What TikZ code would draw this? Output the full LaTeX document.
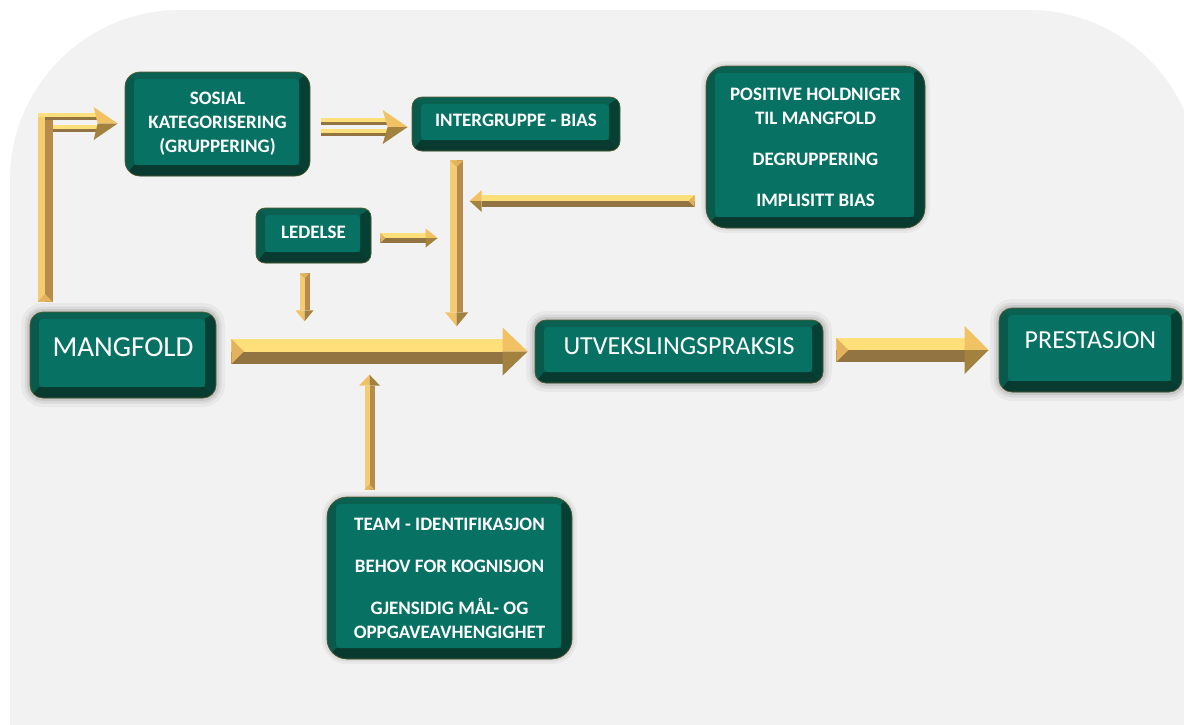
\documentclass[tikz,border=0pt]{standalone}
\usepackage{fontspec}
\setmainfont{Carlito}
\usetikzlibrary{calc}
\definecolor{bgc}{HTML}{F2F2F2}
\definecolor{face}{HTML}{077264}
\definecolor{bvT}{HTML}{0A6152}
\definecolor{bvL}{HTML}{0A5A4B}
\definecolor{bvR}{HTML}{063F34}
\definecolor{bvB}{HTML}{083A30}
\definecolor{edge}{HTML}{5A5A32}
\definecolor{gLight}{HTML}{FFDF7A}
\definecolor{gDark}{HTML}{927442}
\definecolor{gMid}{HTML}{E2B25E}
\definecolor{gHeadL}{HTML}{F1C263}
\definecolor{gHeadD}{HTML}{A3823F}
\definecolor{vLight}{HTML}{F4CD72}
\definecolor{vDark}{HTML}{B78C4A}
\newcommand\up[2]{\raisebox{#1}[\height][\depth]{#2}}
\newcommand\lines[1]{\begin{tabular}{@{}c@{}}#1\end{tabular}}
% horizontal arrow to the right: tail, tip, half shaft, half head, head length
\newcommand\ArrR[5]{%
 \fill[gLight] let \p1=(#1),\p2=(#2) in (\x1,\y1) rectangle (\x2-#5pt,\y1+#3pt);
 \fill[gDark] let \p1=(#1),\p2=(#2) in (\x1,\y1) rectangle (\x2-#5pt,\y1-#3pt);
 \fill[gHeadL] let \p1=(#1),\p2=(#2) in (\x2-#5pt,\y1) -- (\x2-#5pt,\y1+#4pt) -- (\x2,\y1) -- cycle;
 \fill[gHeadD] let \p1=(#1),\p2=(#2) in (\x2-#5pt,\y1) -- (\x2-#5pt,\y1-#4pt) -- (\x2,\y1) -- cycle;
 \fill[gMid] let \p1=(#1),\p2=(#2) in (\x1,\y1+#3pt) -- (\x1+#3pt,\y1) -- (\x1,\y1-#3pt) -- cycle;}
\newcommand\ArrL[5]{%
 \fill[gLight] let \p1=(#1),\p2=(#2) in (\x2+#5pt,\y1) rectangle (\x1,\y1+#3pt);
 \fill[gDark] let \p1=(#1),\p2=(#2) in (\x2+#5pt,\y1) rectangle (\x1,\y1-#3pt);
 \fill[gHeadL] let \p1=(#1),\p2=(#2) in (\x2+#5pt,\y1) -- (\x2+#5pt,\y1+#4pt) -- (\x2,\y1) -- cycle;
 \fill[gHeadD] let \p1=(#1),\p2=(#2) in (\x2+#5pt,\y1) -- (\x2+#5pt,\y1-#4pt) -- (\x2,\y1) -- cycle;
 \fill[gMid] let \p1=(#1),\p2=(#2) in (\x1,\y1+#3pt) -- (\x1-#3pt,\y1) -- (\x1,\y1-#3pt) -- cycle;}
\newcommand\ArrD[5]{%
 \fill[vLight] let \p1=(#1),\p2=(#2) in (\x1-#3pt,\y1) rectangle (\x1,\y2+#5pt);
 \fill[vDark] let \p1=(#1),\p2=(#2) in (\x1,\y1) rectangle (\x1+#3pt,\y2+#5pt);
 \fill[gHeadL] let \p1=(#1),\p2=(#2) in (\x1-#4pt,\y2+#5pt) -- (\x1,\y2+#5pt) -- (\x1,\y2) -- cycle;
 \fill[gHeadD] let \p1=(#1),\p2=(#2) in (\x1,\y2+#5pt) -- (\x1+#4pt,\y2+#5pt) -- (\x1,\y2) -- cycle;
 \fill[gMid] let \p1=(#1),\p2=(#2) in (\x1-#3pt,\y1) -- (\x1,\y1-#3pt) -- (\x1+#3pt,\y1) -- cycle;}
\newcommand\ArrU[5]{%
 \fill[vLight] let \p1=(#1),\p2=(#2) in (\x1-#3pt,\y1) rectangle (\x1,\y2-#5pt);
 \fill[vDark] let \p1=(#1),\p2=(#2) in (\x1,\y1) rectangle (\x1+#3pt,\y2-#5pt);
 \fill[gHeadL] let \p1=(#1),\p2=(#2) in (\x1-#4pt,\y2-#5pt) -- (\x1,\y2-#5pt) -- (\x1,\y2) -- cycle;
 \fill[gHeadD] let \p1=(#1),\p2=(#2) in (\x1,\y2-#5pt) -- (\x1+#4pt,\y2-#5pt) -- (\x1,\y2) -- cycle;
 \fill[gMid] let \p1=(#1),\p2=(#2) in (\x1-#3pt,\y1) -- (\x1,\y1+#3pt) -- (\x1+#3pt,\y1) -- cycle;}
% double-line arrow to the right
\newcommand\DblR[2]{%
 \fill[gLight] let \p1=(#1),\p2=(#2) in (\x1,\y1+5.5pt) rectangle (\x2-21pt,\y1+9.3pt);
 \fill[gDark] let \p1=(#1),\p2=(#2) in (\x1,\y1+5.5pt) rectangle (\x2-21pt,\y1+1.8pt);
 \fill[gLight] let \p1=(#1),\p2=(#2) in (\x1,\y1-5.5pt) rectangle (\x2-21pt,\y1-1.8pt);
 \fill[gDark] let \p1=(#1),\p2=(#2) in (\x1,\y1-5.5pt) rectangle (\x2-21pt,\y1-9.3pt);
 \fill[gHeadL] let \p1=(#1),\p2=(#2) in (\x2-25pt,\y1+17pt) -- (\x2,\y1) -- (\x2-20pt,\y1) -- cycle;
 \fill[gHeadD] let \p1=(#1),\p2=(#2) in (\x2-25pt,\y1-17pt) -- (\x2,\y1) -- (\x2-20pt,\y1) -- cycle;}
\tikzset{
 box/.style={rounded corners=12pt, fill=bvT, draw=edge, line width=0.7pt, text=white, inner sep=0pt,
  font=\bfseries\fontsize{19}{24}\selectfont,
  path picture={
   \fill[bvL, sharp corners] (path picture bounding box.north west) -- ([xshift=9pt,yshift=-7pt]path picture bounding box.north west) -- ([xshift=9pt,yshift=11pt]path picture bounding box.south west) -- (path picture bounding box.south west) -- cycle;
   \fill[bvR, sharp corners] (path picture bounding box.north east) -- ([xshift=-11pt,yshift=-7pt]path picture bounding box.north east) -- ([xshift=-11pt,yshift=11pt]path picture bounding box.south east) -- (path picture bounding box.south east) -- cycle;
   \fill[bvB, sharp corners] (path picture bounding box.south west) -- ([xshift=9pt,yshift=11pt]path picture bounding box.south west) -- ([xshift=-11pt,yshift=11pt]path picture bounding box.south east) -- (path picture bounding box.south east) -- cycle;
   \fill[face, rounded corners=4pt] ([xshift=9pt,yshift=-7pt]path picture bounding box.north west) rectangle ([xshift=-11pt,yshift=11pt]path picture bounding box.south east);
  }},
 glow/.style={preaction={draw=black, opacity=0.04, line width=18pt},
  preaction={draw=black, opacity=0.06, line width=11pt},
  preaction={draw=black, opacity=0.08, line width=6pt}},
 softglow/.style={preaction={draw=black, opacity=0.04, line width=10pt},
  preaction={draw=black, opacity=0.05, line width=5pt}},
 bigtext/.style={font=\fontsize{26}{30}\selectfont}
}
\begin{document}
\begin{tikzpicture}[x=1pt,y=-1pt]
\useasboundingbox (0,0) rectangle (1184,724);
\clip (0,0) rectangle (1184,724);
\fill[white] (0,0) rectangle (1184,724);
\fill[bgc, rounded corners=170pt] (10,10) rectangle (1199,1100);

% nodes
\node[box, rounded corners=15pt, minimum width=185pt, minimum height=104pt] (sos) at (217.5,124)
  {\up{0pt}{\lines{SOSIAL\\KATEGORISERING\\(GRUPPERING)}}};
\node[box, rounded corners=10pt, minimum width=208pt, minimum height=54pt] (inter) at (516,124)
  {\up{4pt}{INTERGRUPPE - BIAS}};
\node[box, softglow, rounded corners=20pt, minimum width=219pt, minimum height=162pt] (pos) at (815.5,147)
  {\up{-2pt}{\lines{POSITIVE HOLDNIGER\\TIL MANGFOLD\\[17pt]DEGRUPPERING\\[17pt]IMPLISITT BIAS}}};
\node[box, rounded corners=9pt, minimum width=115pt, minimum height=55pt] (led) at (313.5,235.5)
  {\up{3pt}{LEDELSE}};
\node[box, glow, rounded corners=13pt, minimum width=186pt, minimum height=86pt, font=\fontsize{29}{34}\selectfont] (mang) at (123,355)
  {\up{8pt}{MANGFOLD}};
\node[box, glow, bigtext, rounded corners=11pt, minimum width=288pt, minimum height=63pt] (utv) at (679,351.5)
  {\up{5pt}{UTVEKSLINGSPRAKSIS}};
\node[box, glow, bigtext, rounded corners=13pt, minimum width=183pt, minimum height=84pt] (pres) at (1090.5,350)
  {\up{10pt}{PRESTASJON}};
\node[box, softglow, rounded corners=20pt, minimum width=245pt, minimum height=162pt] (team) at (449.5,578)
  {\up{-2pt}{\lines{TEAM - IDENTIFIKASJON\\[18pt]BEHOV FOR KOGNISJON\\[18pt]GJENSIDIG MÅL- OG\\OPPGAVEAVHENGIGHET}}};

% helper coordinates
\coordinate (vtop) at ($(inter.south west)+(45,9)$);
\coordinate (vbot) at ($(vtop)+(0,166)$);

% L-shaped double arrow MANGFOLD -> SOSIAL
\fill[vLight] let \p1=(mang.north west),\p2=(sos.west) in (\x1+8pt,\y1+10pt) rectangle (\x1+15.5pt,\y2+11pt);
\fill[vDark] let \p1=(mang.north west),\p2=(sos.west) in (\x1+15.5pt,\y1+10pt) rectangle (\x1+23pt,\y2+4pt);
\fill[gMid] let \p1=(mang.north west),\p2=(sos.west) in (\x1+8pt,\y1+10pt) -- (\x1+15.5pt,\y1+17.5pt) -- (\x1+23pt,\y1+10pt) -- cycle;
\fill[gLight] let \p1=(mang.north west),\p2=(sos.west) in (\x1+8pt,\y2+11pt) rectangle (\x2-28pt,\y2+7.5pt);
\fill[gDark] let \p1=(mang.north west),\p2=(sos.west) in (\x1+15.5pt,\y2+7.5pt) rectangle (\x2-28pt,\y2+4pt);
\fill[gLight] let \p1=(mang.north west),\p2=(sos.west) in (\x1+23pt,\y2-1pt) rectangle (\x2-28pt,\y2-4.5pt);
\fill[gDark] let \p1=(mang.north west),\p2=(sos.west) in (\x1+23pt,\y2-4.5pt) rectangle (\x2-28pt,\y2-8pt);
\fill[gHeadL] let \p1=(mang.north west),\p2=(sos.west) in (\x2-31pt,\y2+17pt) -- (\x2-7pt,\y2+0.5pt) -- (\x2-27pt,\y2+0.5pt) -- cycle;
\fill[gHeadD] let \p1=(mang.north west),\p2=(sos.west) in (\x2-31pt,\y2-16pt) -- (\x2-7pt,\y2+0.5pt) -- (\x2-27pt,\y2+0.5pt) -- cycle;

% double arrow SOSIAL -> INTERGRUPPE
\DblR{$(sos.east)+(11,3)$}{$(inter.west)+(-4,3)$}

% INTERGRUPPE down
\ArrD{vtop}{vbot}{6.5}{11.5}{14}
% POSITIVE -> left
\ArrL{$(pos.west)+(-11,54)$}{$(vtop)+(13,0)$}{6}{11}{12}
% LEDELSE right and down
\ArrR{$(led.east)+(9,2.5)$}{$(vtop)+(-19,0)$}{5}{9.5}{12}
\ArrD{$(led.south)+(-9,10)$}{$(led.south)+(-9,58)$}{5}{9}{11}
% TEAM up
\ArrU{$(team.north)+(-80,-7)$}{$(team.north)+(-80,-122)$}{5}{10.5}{11}
% main flow
\ArrR{$(mang.east)+(15,-3.5)$}{$(utv.west)+(-7,0)$}{12.5}{24}{25}
\ArrR{$(utv.east)+(13,-1.5)$}{$(pres.west)+(-10,0)$}{12}{24}{24}
\end{tikzpicture}
\end{document}
